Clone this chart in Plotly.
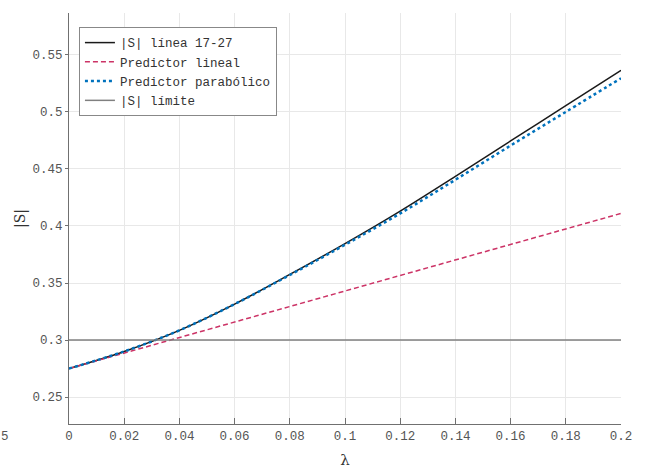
import plotly.graph_objects as go

lam = [0.00, 0.02, 0.04, 0.06, 0.08, 0.10, 0.12, 0.14, 0.16, 0.18, 0.20]
s_linea = [0.2750, 0.2900, 0.3085, 0.3315, 0.3575, 0.3845, 0.4130, 0.4435, 0.4745, 0.5055, 0.5365]
s_parab = [0.2750, 0.2900, 0.3085, 0.3315, 0.3570, 0.3835, 0.4110, 0.4405, 0.4705, 0.5000, 0.5295]
lam_lin = [0.00, 0.20]
s_lin = [0.2750, 0.4110]
lam_lim = [0.00, 0.20]
s_lim = [0.30, 0.30]

x_ticks = [0, 0.02, 0.04, 0.06, 0.08, 0.1, 0.12, 0.14, 0.16, 0.18, 0.2]
x_tick_text = ["0", "0.02", "0.04", "0.06", "0.08", "0.1", "0.12", "0.14", "0.16", "0.18", "0.2"]
y_ticks = [0.25, 0.3, 0.35, 0.4, 0.45, 0.5, 0.55]
y_tick_text = ["0.25", "0.3", "0.35", "0.4", "0.45", "0.5", "0.55"]

mono = "Liberation Mono"

fig = go.Figure()
fig.add_trace(go.Scatter(x=lam, y=s_linea, mode="lines", name="|S| línea 17-27",
                         line=dict(color="#1a1a1a", width=1.5, shape="spline")))
fig.add_trace(go.Scatter(x=lam_lin, y=s_lin, mode="lines", name="Predictor lineal",
                         line=dict(color="rgb(204,51,102)", width=1.5, dash="5px,3px")))
fig.add_trace(go.Scatter(x=lam, y=s_parab, mode="lines", name="Predictor parabólico",
                         line=dict(color="#0072BD", width=2.5, dash="dot", shape="spline")))
fig.add_trace(go.Scatter(x=lam_lim, y=s_lim, mode="lines", name="|S| límite",
                         line=dict(color="#808080", width=1.5)))

fig.update_layout(
    width=645, height=473,
    margin=dict(l=69, r=24, t=13, b=49, autoexpand=False),
    paper_bgcolor="white", plot_bgcolor="white",
    font=dict(family=mono, size=12.5, color="#555555"),
    showlegend=True,
    legend=dict(x=0.018, y=0.966, xanchor="left", yanchor="top",
                bgcolor="white", bordercolor="#888888", borderwidth=1,
                font=dict(family=mono, size=12.5, color="#333333"),
                itemwidth=30, tracegroupgap=0),
    xaxis=dict(range=[0, 0.2], tickvals=x_ticks, ticktext=x_tick_text,
               showgrid=True, gridcolor="#e8e8e8", gridwidth=1,
               showline=True, linecolor="#707070", linewidth=1,
               ticks="inside", ticklen=6, tickcolor="#707070",
               zeroline=False, mirror=False, automargin=False,
               title=dict(text="λ", font=dict(family="DejaVu Serif", size=15, color="#333333"), standoff=11)),
    yaxis=dict(range=[0.2264, 0.5867], tickvals=y_ticks, ticktext=y_tick_text,
               showgrid=True, gridcolor="#e8e8e8", gridwidth=1,
               showline=True, linecolor="#707070", linewidth=1,
               ticks="outside", ticklen=3, tickcolor="#707070",
               zeroline=False, mirror=False, automargin=False,
               title=dict(text="|S|", font=dict(family="DejaVu Serif", size=14, color="#333333"), standoff=3)),
)

fig.add_annotation(text="5", xref="paper", yref="paper",
                   x=(5 - 69) / 552, y=(424 - 437) / 411,
                   xanchor="center", yanchor="middle", showarrow=False,
                   font=dict(family=mono, size=12.5, color="#555555"))

fig.write_html("out.html")
